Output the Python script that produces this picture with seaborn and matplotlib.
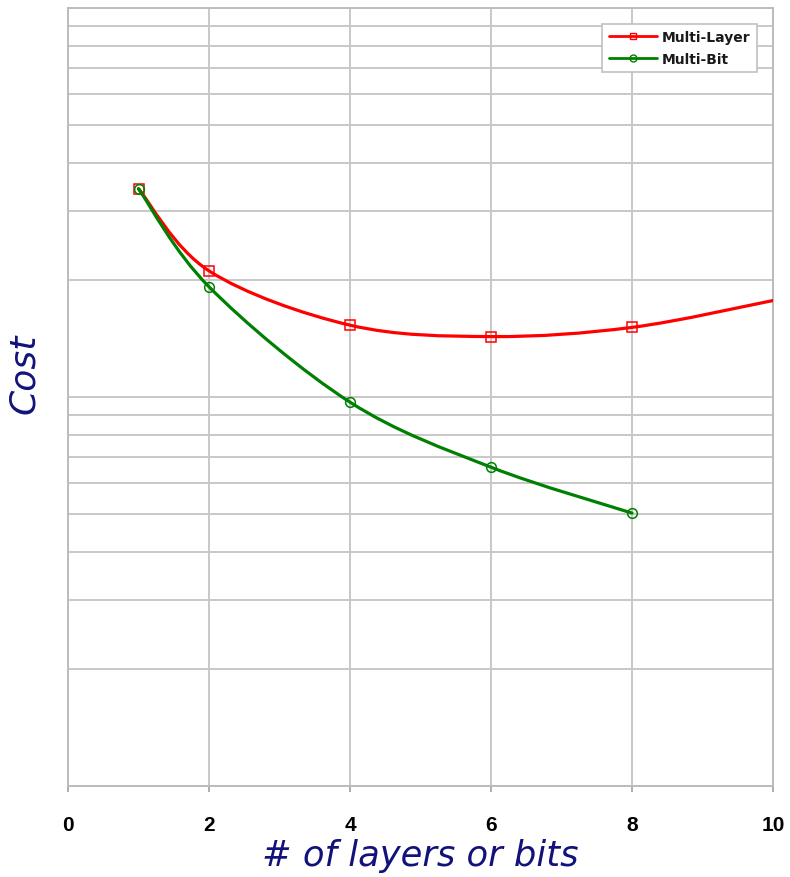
import numpy as np
import pandas as pd
import matplotlib
matplotlib.use("Agg")
import matplotlib.pyplot as plt
import seaborn as sns
from matplotlib.path import Path
from matplotlib.patches import PathPatch
from matplotlib.lines import Line2D
from matplotlib.ticker import LogLocator, NullFormatter, FixedLocator

# Cost versus number of layers / bits (log-scaled cost axis)
layers_n = [1, 2, 4, 6, 8, 10]
layers_cost = [34.3, 21.1, 15.3, 14.3, 15.1, 17.7]
bits_n = [1, 2, 4, 6, 8]
bits_cost = [34.3, 19.2, 9.7, 6.6, 5.03]
x_ticks = [0, 2, 4, 6, 8, 10]
series_names = ["Multi-Layer", "Multi-Bit"]
series_colors = ["#ff0000", "#008000"]
series_markers = ["s", "o"]

sns.set_theme(style="white")
plt.rcParams["font.family"] = ["Liberation Sans", "DejaVu Sans"]

fig = plt.figure(figsize=(7.9, 8.78), dpi=100)
ax = fig.add_axes([68 / 790, 1 - 787 / 878, (773 - 68) / 790, (787 - 9) / 878])
ax.set_yscale("log")
ax.set_xlim(0, 10)
ax.set_ylim(1, 100)


def smooth_path(xs, ys):
    """Excel-style smoothed polyline as cubic Bezier segments in (x, log y)."""
    pts = np.column_stack([np.asarray(xs, float), np.log10(ys)])
    ext = np.vstack([pts[0], pts, pts[-1]])
    verts = [pts[0]]
    codes = [Path.MOVETO]
    for i in range(1, len(ext) - 2):
        p0, p1, p2, p3 = ext[i - 1], ext[i], ext[i + 1], ext[i + 2]
        verts += [p1 + (p2 - p0) / 6, p2 - (p3 - p1) / 6, p2]
        codes += [Path.CURVE4] * 3
    verts = np.array(verts)
    verts[:, 1] = 10 ** verts[:, 1]
    return Path(verts, codes)


series = [
    (series_names[0], layers_n, layers_cost, series_colors[0], series_markers[0], 5),
    (series_names[1], bits_n, bits_cost, series_colors[1], series_markers[1], 5),
]

for name, xs, ys, color, marker, n_marked in series:
    ax.add_patch(PathPatch(smooth_path(xs, ys), fill=False, edgecolor=color,
                           linewidth=2.3, capstyle="round", joinstyle="round",
                           zorder=3))
for name, xs, ys, color, marker, n_marked in series:
    df = pd.DataFrame({"n": xs[:n_marked], "cost": ys[:n_marked]})
    sns.lineplot(data=df, x="n", y="cost", ax=ax, linestyle="none",
                 marker=marker, markersize=7 if marker == "o" else 6.5,
                 markerfacecolor="none", markeredgecolor=color,
                 markeredgewidth=1.1, color=color, zorder=4)

ax.set_xlim(0, 10)
ax.set_ylim(1, 100)

# grid
grid_color = "#c8c8c8"
ax.xaxis.set_major_locator(FixedLocator(x_ticks))
ax.yaxis.set_major_locator(LogLocator(base=10, numticks=10))
ax.yaxis.set_minor_locator(LogLocator(base=10, subs=np.arange(2, 10), numticks=20))
ax.yaxis.set_major_formatter(NullFormatter())
ax.yaxis.set_minor_formatter(NullFormatter())
ax.grid(True, which="major", axis="x", color=grid_color, linewidth=1.4)
ax.grid(True, which="both", axis="y", color=grid_color, linewidth=1.4)
ax.set_axisbelow(True)
for s in ax.spines.values():
    s.set_color("#bcbcbc")
    s.set_linewidth(1.4)

ax.tick_params(axis="y", which="both", left=False, length=0)
ax.tick_params(axis="x", which="major", bottom=True, length=4, width=1.2,
               color="#a0a0a0", pad=17, labelsize=15, labelcolor="black")
for lbl in ax.get_xticklabels():
    lbl.set_fontweight("bold")

label_color = "#12127a"
ax.set_xlabel("# of layers or bits", fontsize=25.5, fontstyle="italic",
              color=label_color, family="DejaVu Sans", labelpad=3)
ax.set_ylabel("Cost", fontsize=26, fontstyle="italic",
              color=label_color, family="DejaVu Sans")
ax.yaxis.set_label_coords(-27 / 705, (787 - 374) / 778)

handles = [Line2D([0], [0], color=c, linewidth=2, marker=m, markersize=5,
                  markerfacecolor="none", markeredgecolor=c, markeredgewidth=1)
           for c, m in zip(series_colors, series_markers)]
leg = ax.legend(handles, series_names, loc="upper right",
                bbox_to_anchor=((757 - 68) / 705, (787 - 25) / 778), borderaxespad=0,
                fancybox=False, framealpha=1, edgecolor="#c0c0c0",
                prop={"family": "DejaVu Sans", "weight": "bold", "size": 10},
                handlelength=3.5, handletextpad=0.35, labelspacing=0.55,
                borderpad=0.45)
leg.get_frame().set_linewidth(1.2)
for t in leg.get_texts():
    t.set_color("#1a1a1a")

fig.savefig("out.png", dpi=100)
